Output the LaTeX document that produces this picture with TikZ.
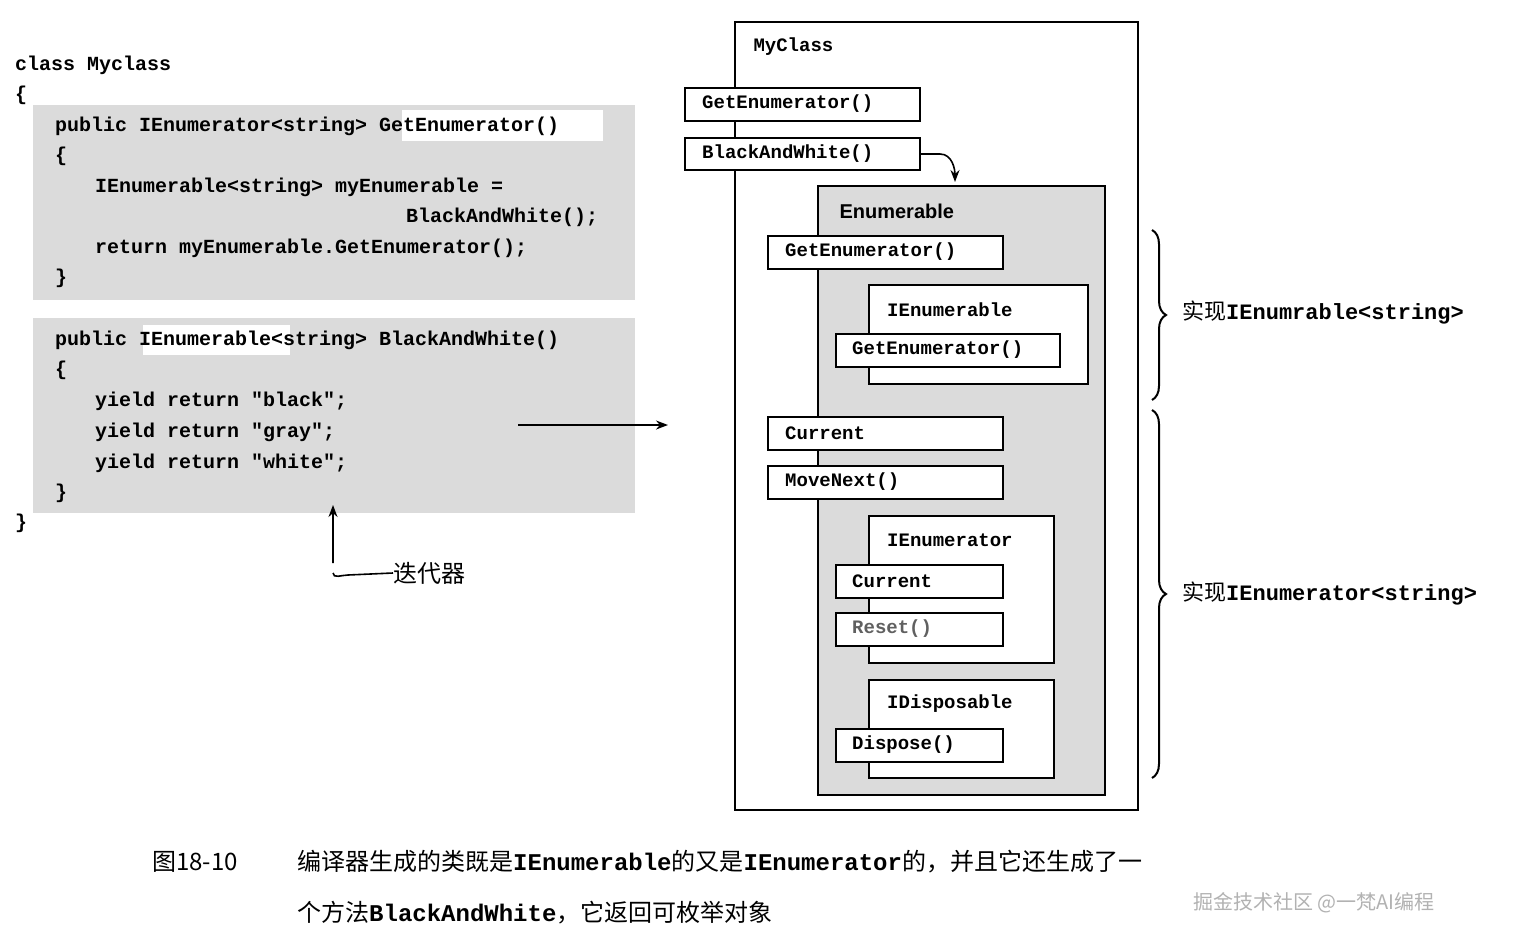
\documentclass[tikz,border=0pt]{standalone}
\usepackage{fontspec}
\setmonofont{Liberation Mono}
\setsansfont{Liberation Sans}
\newfontfamily\cjk{Noto Sans CJK SC}
\usetikzlibrary{decorations.pathreplacing,arrows.meta}
\begin{document}
\begin{tikzpicture}[x=1pt,y=-1pt,
 code/.style={anchor=west,inner sep=0,font=\ttfamily\bfseries\fontsize{20}{22}\selectfont},
 mbox/.style={draw,line width=1.6pt,fill=white,anchor=north west,inner sep=0},
 mtxt/.style={anchor=west,inner sep=0,font=\ttfamily\bfseries\fontsize{19}{21}\selectfont},
 lbl/.style={anchor=west,inner sep=0,font=\cjk\fontsize{24}{26}\selectfont},
 arr/.style={-{Stealth[length=12pt,width=9pt]},line width=1.6pt}]
\useasboundingbox (0,0) rectangle (1529,943);
\fill[white] (0,0) rectangle (1529,943);
% code panels
\fill[gray!28] (33,105) rectangle (635,300);
\fill[gray!28] (33,318) rectangle (635,513);
\fill[white] (402,110) rectangle (603,141);
\fill[white] (143,325) rectangle (290,355);
\node[code] (c0) at (15,65) {class Myclass};
\node[code] (c1) at (15,95) {\{};
\node[code] (c2) at (55,126) {public IEnumerator<string> GetEnumerator()};
\node[code] (c3) at (55,156) {\{};
\node[code] (c4) at (95,187) {IEnumerable<string> myEnumerable =};
\node[code] (c5) at (406,217) {BlackAndWhite();};
\node[code] (c6) at (95,248) {return myEnumerable.GetEnumerator();};
\node[code] (c7) at (55,278) {\}};
\node[code] (d0) at (55,340) {public IEnumerable<string> BlackAndWhite()};
\node[code] (d1) at (55,370) {\{};
\node[code] (d2) at (95,401) {yield return "black";};
\node[code] (d3) at (95,432) {yield return "gray";};
\node[code] (d4) at (95,463) {yield return "white";};
\node[code] (d5) at (55,493) {\}};
\node[code] (d6) at (15,523) {\}};
\coordinate (a1) at (518,425); \coordinate (a2) at (668,425);
\draw[arr] (a1) -- (a2);
\node[lbl] (it) at (393,573) {迭代器};
\coordinate (iu) at (333,505);
\draw[arr] (it.west) -- (348,575) to[out=180,in=-90] (iu|-it.west) ++(0,-10) -- (iu);
% MyClass
\draw[line width=1.6pt] (735,22) rectangle (1138,810);
\node[anchor=west,font=\ttfamily\bfseries\fontsize{19}{21}\selectfont] (mc) at (750,47) {MyClass};
\draw[mbox] (685,88) rectangle (920,121);
\node[mtxt] (g1) at (702,104) {GetEnumerator()};
\draw[mbox] (685,138) rectangle (920,170);
\node[mtxt] (bw) at (702,154) {BlackAndWhite()};
\coordinate (bwr) at (920,154); \coordinate (en) at (955,182);
\draw[arr] (bwr) -- (940,154) to[out=0,in=90] (en);
% Enumerable
\draw[line width=1.6pt,fill=gray!28] (818,186) rectangle (1105,795);
\node[anchor=west,font=\sffamily\bfseries\fontsize{20}{22}\selectfont] (enl) at (836,211) {Enumerable};
\draw[mbox] (768,236) rectangle (1003,269);
\node[mtxt] (g2) at (785,252) {GetEnumerator()};
\draw[mbox] (869,285) rectangle (1088,384);
\node[mtxt] (ie) at (887,310) {IEnumerable};
\draw[mbox] (836,334) rectangle (1060,367);
\node[mtxt] (g3) at (852,350) {GetEnumerator()};
\draw[mbox] (768,417) rectangle (1003,450);
\node[mtxt] (cu) at (785,433) {Current};
\draw[mbox] (768,466) rectangle (1003,499);
\node[mtxt] (mn) at (785,482) {MoveNext()};
\draw[mbox] (869,516) rectangle (1054,663);
\node[mtxt] (ier) at (887,540) {IEnumerator};
\draw[mbox] (836,565) rectangle (1003,598);
\node[mtxt] (cu2) at (852,581) {Current};
\draw[mbox] (836,613) rectangle (1003,646);
\node[mtxt,text=gray!75!black] (rs) at (852,629) {Reset()};
\draw[mbox] (869,680) rectangle (1054,778);
\node[mtxt] (idp) at (887,704) {IDisposable};
\draw[mbox] (836,729) rectangle (1003,762);
\node[mtxt] (dp) at (852,745) {Dispose()};
% braces
\coordinate (b1a) at (1152,230); \coordinate (b1b) at (1152,400);
\coordinate (b2a) at (1152,410); \coordinate (b2b) at (1152,778);
\draw[line width=2pt,decorate,decoration={brace,amplitude=14pt}] (b1a) -- (b1b);
\draw[line width=2pt,decorate,decoration={brace,amplitude=14pt}] (b2a) -- (b2b);
\node[lbl,font=\cjk\fontsize{22}{24}\selectfont] (t1) at (1182,313) {实现\texttt{\bfseries IEnumrable<string>}};
\node[lbl,font=\cjk\fontsize{22}{24}\selectfont] (t2) at (1182,594) {实现\texttt{\bfseries IEnumerator<string>}};
% caption
\node[lbl] (cap0) at (152,862) {图18-10};
\node[lbl] (cap1) at (297,862) {编译器生成的类既是\texttt{\bfseries IEnumerable}的又是\texttt{\bfseries IEnumerator}的，并且它还生成了一};
\node[lbl] (cap2) at (297,913) {个方法\texttt{\bfseries BlackAndWhite}，它返回可枚举对象};
\node[lbl,text=gray!60,font=\cjk\fontsize{20}{22}\selectfont] (wm) at (1193,903) {掘金技术社区 @一梵AI编程};
\end{tikzpicture}
\end{document}
